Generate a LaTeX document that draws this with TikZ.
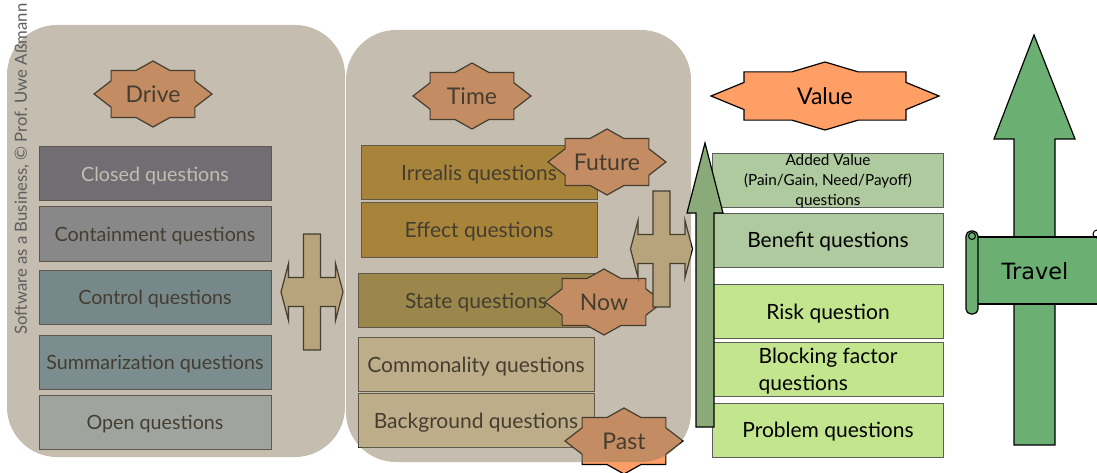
\documentclass[tikz,border=0pt]{standalone}
\usepackage{fontspec}
\setmainfont{Lato}
\newfontfamily\travelfont{DejaVu Sans}

\definecolor{closedfill}{HTML}{575F87}
\definecolor{containfill}{HTML}{8997B1}
\definecolor{controlfill}{HTML}{6397B3}
\definecolor{summfill}{HTML}{6DA1BF}
\definecolor{openfill}{HTML}{B7D1DD}
\definecolor{irrealisfill}{HTML}{C78F13}
\definecolor{statefill}{HTML}{AF9335}
\definecolor{commonfill}{HTML}{F5E1B3}
\definecolor{crossfill}{HTML}{E7CF99}
\definecolor{starfill}{HTML}{FF9F66}
\definecolor{panelfill}{HTML}{897B61}
\definecolor{valuefill}{HTML}{AECA9E}
\definecolor{problemfill}{HTML}{C2E58E}
\definecolor{riseline}{HTML}{8BAA7A}
\definecolor{travelfill}{HTML}{6BAF73}
\definecolor{qline}{HTML}{333333}
\definecolor{creditgray}{HTML}{5E5E5E}

\tikzset{
    qbox/.style={draw=qline, line width=1pt, minimum width=232pt, minimum height=54pt,
        inner sep=0pt, text depth=0pt, font=\fontsize{19.7}{24}\selectfont},
    midbox/.style={qbox, minimum width=236pt, font=\fontsize{21}{25}\selectfont},
    vbox/.style={qbox, draw=qline!80, line width=0.8pt, minimum width=231pt,
        font=\fontsize{21}{27}\selectfont},
    badge/.style={draw=black, line width=1.2pt, fill=starfill, line join=miter},
    badgetext/.style={font=\fontsize{23}{26}\selectfont, inner sep=0pt},
    cross/.style={draw=black, line width=1.2pt, fill=crossfill},
    panel/.style={fill=panelfill, fill opacity=0.5, rounded corners=50pt},
    rise/.style={draw=black, line width=1.2pt},
}

\newcommand\badge[5]{%
    \begin{scope}[shift={(#2)}, xscale=#3, yscale=#4]
        \draw[badge] (0,-1) -- (.29,-.71) -- (.71,-.71) -- (.71,-.4) -- (1,0)
            -- (.71,.4) -- (.71,.71) -- (.29,.71) -- (0,1) -- (-.29,.71)
            -- (-.71,.71) -- (-.71,.4) -- (-1,0) -- (-.71,-.4) -- (-.71,-.71)
            -- (-.29,-.71) -- cycle;
    \end{scope}
    \node[badgetext] (#1) at (#2) {#5};}

\newcommand\crossarrow[1]{%
    \begin{scope}[shift={(#1)}]
        \draw[cross] (-8.5,-58) -- (8.5,-58) -- (8.5,-14.5) -- (23.5,-14.5)
            -- (23.5,-28.5) -- (31,0) -- (23.5,28.5) -- (23.5,14.5) -- (8.5,14.5)
            -- (8.5,58) -- (-8.5,58) -- (-8.5,14.5) -- (-23.5,14.5) -- (-23.5,28.5)
            -- (-31,0) -- (-23.5,-28.5) -- (-23.5,-14.5) -- (-8.5,-14.5) -- cycle;
    \end{scope}}

\begin{document}
\begin{tikzpicture}[x=1pt,y=-1pt]
    \useasboundingbox (0,0) rectangle (1097,473);

    % drive column
    \node[qbox, fill=closedfill, text=white] (closed) at (155,174) {Closed questions};
    \node[qbox, fill=containfill] (contain) at (155,234) {Containment questions};
    \node[qbox, fill=controlfill] (control) at (155,297.5) {Control questions};
    \node[qbox, fill=summfill] (summ) at (155,362) {Summarization questions};
    \node[qbox, fill=openfill] (open) at (155,422.5) {Open questions};
    \badge{drive}{153,94}{59}{33}{Drive}
    \crossarrow{312,292}

    % time column
    \node[midbox, fill=irrealisfill] (irrealis) at (479,172.5) {Irrealis questions};
    \node[midbox, fill=irrealisfill] (effect) at (479,230) {Effect questions};
    \node[midbox, fill=statefill] (state) at (476,300.5) {State questions};
    \node[midbox, fill=commonfill] (common) at (476,364.5) {Commonality questions};
    \node[midbox, fill=commonfill] (background) at (476,420.5) {Background questions};
    \badge{time}{472,96}{59}{33}{Time}
    \badge{future}{607,162}{59}{33}{Future}
    \badge{now}{604,302}{59}{33}{Now}
    \badge{past}{624,441}{59}{33}{Past}
    \crossarrow{661.5,249}

    \fill[panel] (7,25) rectangle (345,457);
    \fill[panel] (346,30) rectangle (691,462);
    \node[rotate=90, text=creditgray, font=\fontsize{16.7}{19}\selectfont] (credit)
        at (22,169) {Software as a Business, © Prof.\ Uwe Aßmann};

    % value column
    \badge{value}{825,96}{114}{34}{Value}
    \node[vbox, fill=valuefill, align=center, font=\fontsize{15.3}{20}\selectfont] (added)
        at (828,180) {Added Value\\(Pain/Gain, Need/Payoff)\\questions};
    \node[vbox, fill=valuefill] (benefit) at (828,240) {Benefit questions};
    \node[vbox, fill=problemfill] (risk) at (828,311.5) {Risk question};
    \node[vbox, fill=problemfill, align=left] (blocking) at (828,369.5) {Blocking factor\\questions};
    \node[vbox, fill=problemfill] (problem) at (828,430) {Problem questions};
    \draw[rise, fill=riseline] (696,427) -- (696,213) -- (687,213) -- (705,143)
        -- (723,213) -- (714,213) -- (714,427) -- cycle;

    % travel
    \draw[rise, fill=travelfill] (1014,445) -- (1014,139) -- (994,139) -- (1034,35)
        -- (1075,139) -- (1055,139) -- (1055,445) -- cycle;
    \draw[rise, fill=travelfill] (975,237) rectangle (1110,304);
    \draw[rise, fill=travelfill, rounded corners=5pt] (966,231) rectangle (978,314);
    \draw[line width=1pt] (972,236) circle (3.5);
    \draw[line width=1pt] (1097,234) circle (4);
    \node[font=\travelfont\fontsize{22.4}{26}\selectfont] (travel) at (1035,271) {Travel};
\end{tikzpicture}
\end{document}
